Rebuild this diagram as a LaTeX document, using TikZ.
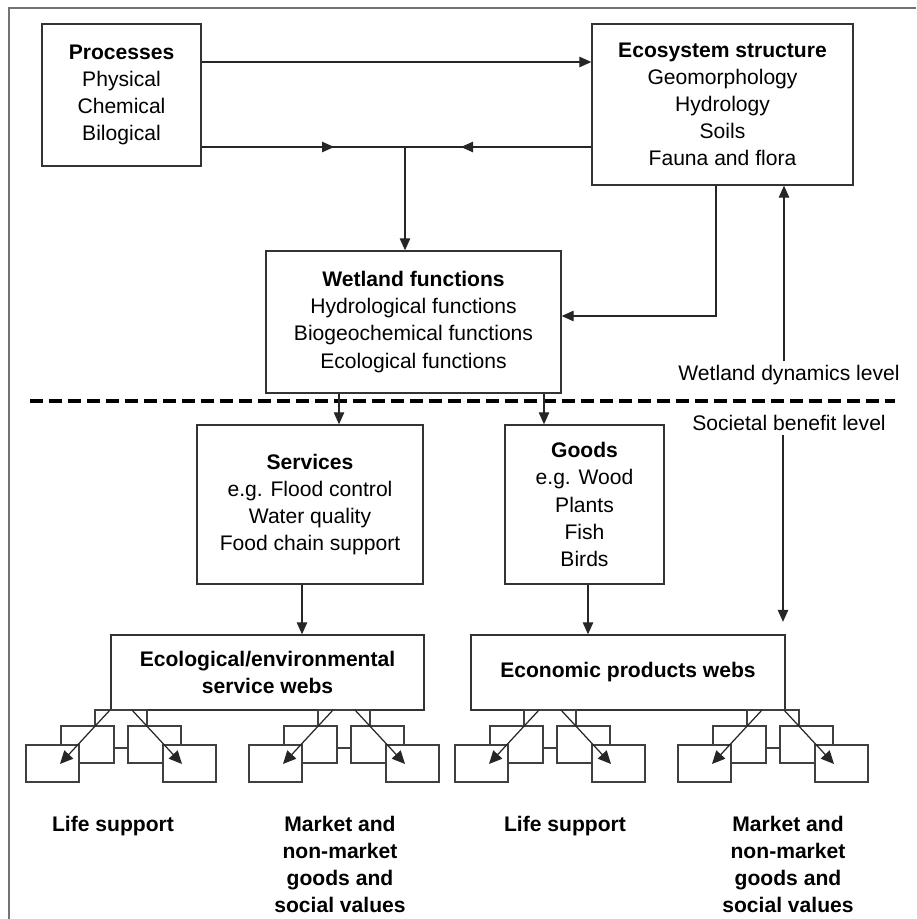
\documentclass[tikz,border=0pt]{standalone}
\usepackage{fontspec}
\setmainfont{Liberation Sans}
\usetikzlibrary{arrows.meta}

\tikzset{
  box/.style={draw=black!80, line width=0.8pt, fill=white, align=center,
    inner sep=0pt, font=\fontsize{12}{15.4}\selectfont},
  lvl/.style={inner sep=2pt, font=\fontsize{12}{15.4}\selectfont},
  lbl/.style={align=center, inner sep=0pt, anchor=north,
    font=\bfseries\fontsize{12}{15.4}\selectfont},
  arr/.style={-{Triangle[length=2.4mm,width=2.1mm]}, line width=0.6pt, black!85},
  webarr/.style={-{Triangle[length=2.6mm,width=2.4mm]}, line width=0.7pt, black!85},
  web/.style={draw=black!75, line width=0.7pt, fill=white}
}

\begin{document}
\begin{tikzpicture}[x=0.02cm,y=-0.02cm]
\useasboundingbox (0,0) rectangle (916,919);
% frame
\draw[black!55, line width=1.2pt] (9,919) -- (9,8) -- (916,8);

% wetland dynamics level
\node[box, minimum width=3.18cm, minimum height=2.84cm] (proc) at (121.5,95)
  {\textbf{Processes}\\Physical\\Chemical\\Bilogical};
\node[box, minimum width=5.22cm, minimum height=3.22cm] (eco) at (722.5,104.5)
  {\textbf{Ecosystem structure}\\Geomorphology\\Hydrology\\Soils\\Fauna and flora};
\node[box, minimum width=5.9cm, minimum height=2.84cm] (wet) at (413.5,322)
  {\textbf{Wetland functions}\\Hydrological functions\\Biogeochemical functions\\Ecological functions};

% societal benefit level
\node[box, minimum width=4.52cm, minimum height=3.18cm] (serv) at (310,504.5)
  {\textbf{Services}\\e.g. Flood control\\Water quality\\Food chain support};
\node[box, minimum width=3.18cm, minimum height=3.18cm] (goods) at (584.5,504.5)
  {\textbf{Goods}\\e.g. Wood\\Plants\\Fish\\Birds};
\node[box, minimum width=6.26cm, minimum height=1.5cm, font=\bfseries\fontsize{12}{15.4}\selectfont] (ecol) at (267.5,672.5)
  {Ecological/environmental\\service webs};
\node[box, minimum width=6.28cm, minimum height=1.5cm, font=\bfseries\fontsize{12}{15.4}\selectfont] (econ) at (628,672.5)
  {Economic products webs};

\node[lvl] (wdl) at (789,375) {Wetland dynamics level};
\node[lvl] (sbl) at (789,423) {Societal benefit level};
\draw[line width=2.4pt, dash pattern=on 0.26cm off 0.12cm] (30,401) -- (895,401);

% connectors
\coordinate (t) at (0,62);
\coordinate (jn) at (405,147);
\coordinate (ew) at (716,316);
\coordinate (up) at (784,0);
\coordinate (dn) at (783,0);
\draw[arr] (proc.east |- t) -- (eco.west |- t);
\draw[line width=0.6pt, black!85] (proc.east |- jn) -- (eco.west |- jn);
\draw[arr] (proc.east |- jn) -- (334,147);
\draw[arr] (eco.west |- jn) -- (461,147);
\draw[arr] (jn) -- (jn |- wet.north);
\draw[arr] (eco.south -| ew) -- (ew) -- (wet.east |- ew);
\draw[arr] (wdl.north -| up) -- (up |- eco.south);
\draw[arr, shorten >=0.25cm] (sbl.south -| dn) -- (dn |- econ.north);
\draw[arr] (wet.south -| 339,0) -- (serv.north -| 339,0);
\draw[arr] (wet.south -| 544,0) -- (goods.north -| 544,0);
\draw[arr] (serv.south -| 302,0) -- (ecol.north -| 302,0);
\draw[arr] (goods.south -| 588,0) -- (econ.north -| 588,0);

% small webs under the boxes
\foreach \c in {121,344,550,773} {
  \draw[web, fill=none] (\c-26,726) -- (\c-26,710) -- (\c+26,710) -- (\c+26,726);
  \draw[web] (\c-60,726) rectangle (\c-7,763);
  \draw[web] (\c+7,726) rectangle (\c+60,763);
  \draw[web] (\c-7,748) -- (\c+7,748);
  \draw[web] (\c-95,745) rectangle (\c-42,782);
  \draw[web] (\c+42,745) rectangle (\c+95,782);
  \draw[webarr] (\c-11,710) -- (\c-61,764);
  \draw[webarr] (\c+11,710) -- (\c+61,764);
}

% outcomes
\node[lbl] (life1) at (113,816) {Life support};
\node[lbl] (mark1) at (340,816) {Market and\\non-market\\goods and\\social values};
\node[lbl] (life2) at (565,816) {Life support};
\node[lbl] (mark2) at (788,816) {Market and\\non-market\\goods and\\social values};
\end{tikzpicture}
\end{document}
